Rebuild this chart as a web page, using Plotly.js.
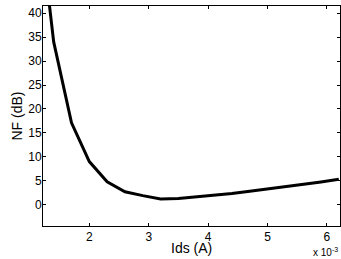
<!DOCTYPE html>
<html>
<head>
<meta charset="utf-8">
<script src="https://cdn.plot.ly/plotly-3.0.1.min.js"></script>
<style>html,body{margin:0;padding:0;background:#fff;}#chart{width:341px;height:259px;}</style>
</head>
<body>
<div id="chart"></div>
<script>
const idsAmps = [1.1e-3, 1.4e-3, 1.7e-3, 2.0e-3, 2.3e-3, 2.6e-3, 2.9e-3, 3.2e-3, 3.5e-3, 3.8e-3, 4.1e-3, 4.4e-3, 4.7e-3, 5.0e-3, 5.3e-3, 5.6e-3, 5.9e-3, 6.2e-3];
const nfDb = [66, 34, 17.1, 9.0, 4.8, 2.7, 1.9, 1.2, 1.3, 1.6, 1.95, 2.35, 2.8, 3.25, 3.75, 4.25, 4.75, 5.3];
const xTickVals = [2e-3, 3e-3, 4e-3, 5e-3, 6e-3];
const xTickText = ['2', '3', '4', '5', '6'];
const yTickVals = [0, 5, 10, 15, 20, 25, 30, 35, 40];

const font = {family: 'Liberation Sans, Arial, sans-serif', size: 12, color: '#000'};
const titleFont = {family: 'Liberation Sans, Arial, sans-serif', size: 14, color: '#000'};
const axisCommon = {
  showgrid: false, zeroline: false, showline: true, linecolor: '#000', linewidth: 1,
  mirror: 'ticks', ticks: 'inside', ticklen: 3, tickcolor: '#000', tickwidth: 1,
  tickfont: font
};
Plotly.newPlot('chart', [{
  x: idsAmps, y: nfDb, type: 'scatter', mode: 'lines',
  line: {color: '#000', width: 3}, hoverinfo: 'skip'
}], {
  width: 341, height: 259,
  margin: {l: 43, r: 1, t: 6, b: 33},
  paper_bgcolor: '#fff', plot_bgcolor: '#fff',
  showlegend: false,
  xaxis: Object.assign({}, axisCommon, {
    range: [1.22e-3, 6.22e-3], tickmode: 'array', tickvals: xTickVals, ticktext: xTickText
  }),
  yaxis: Object.assign({}, axisCommon, {
    range: [-4.45, 41.5], tickmode: 'array', tickvals: yTickVals,
    ticklabelstandoff: -2,
    title: {text: 'NF (dB)', font: titleFont, standoff: 2}
  }),
  annotations: [{
    xref: 'paper', yref: 'paper', x: 0.5, y: -0.1, xanchor: 'center', yanchor: 'middle',
    text: 'Ids (A)', showarrow: false, font: titleFont
  }, {
    xref: 'paper', yref: 'paper', x: 1, y: -0.08, xanchor: 'right', yanchor: 'top',
    text: 'x 10<sup>-3</sup>', showarrow: false, font: {family: font.family, size: 10, color: '#000'}
  }]
}, {displayModeBar: false, staticPlot: true});
</script>
</body>
</html>
